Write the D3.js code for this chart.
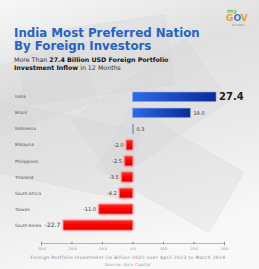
<!DOCTYPE html>
<html>
<head>
<meta charset="utf-8">
<script src="https://cdn.jsdelivr.net/npm/d3@7"></script>
<style>
  html, body { margin: 0; padding: 0; background: #fff; }
  svg { display: block; font-family: "DejaVu Sans", sans-serif; }
</style>
</head>
<body>
<div class="svg-container"></div>
<script>
const countries = ['India', 'Brazil', 'Indonesia', 'Malaysia', 'Philippines', 'Thailand', 'South Africa', 'Taiwan', 'South Korea']
const inflows = [27.4, 19.0, 0.3, -2.0, -2.5, -3.5, -4.2, -11.0, -22.7]
const tickValues = [-30, -20, -10, 0, 10, 20, 30]
const tickLabels = ['-30.0', '-20.0', '-10.0', '0.0', '10.0', '20.0', '30.0']

const data = countries.map((c, i) => ({ country: c, value: inflows[i] }))

const W = 259, H = 269
const svg = d3.select('.svg-container').append('svg')
  .attr('width', W)
  .attr('height', H)

const defs = svg.append('defs')

const bg = defs.append('linearGradient').attr('id', 'bg')
  .attr('x1', 0).attr('y1', 0).attr('x2', 0.3).attr('y2', 1)
bg.append('stop').attr('offset', '0%').attr('stop-color', '#f7f7f7')
bg.append('stop').attr('offset', '35%').attr('stop-color', '#e0e0e0')
bg.append('stop').attr('offset', '70%').attr('stop-color', '#ebebeb')
bg.append('stop').attr('offset', '100%').attr('stop-color', '#f8f8f8')

const blue = defs.append('linearGradient').attr('id', 'blueBar')
blue.append('stop').attr('offset', '0%').attr('stop-color', '#2f6ae6')
blue.append('stop').attr('offset', '100%').attr('stop-color', '#0a2a98')

const red = defs.append('linearGradient').attr('id', 'redBar')
  .attr('x1', 0).attr('y1', 0).attr('x2', 0).attr('y2', 1)
red.append('stop').attr('offset', '0%').attr('stop-color', '#ff2a2a')
red.append('stop').attr('offset', '50%').attr('stop-color', '#ff0000')
red.append('stop').attr('offset', '100%').attr('stop-color', '#e00000')

const glow = defs.append('filter').attr('id', 'glow')
  .attr('x', '-30%').attr('y', '-60%').attr('width', '160%').attr('height', '220%')
glow.append('feDropShadow').attr('dx', 0).attr('dy', 0)
  .attr('stdDeviation', 1.3).attr('flood-color', '#ff3030').attr('flood-opacity', 0.8)

svg.append('rect').attr('width', W).attr('height', H).attr('fill', 'url(#bg)')

// faint banknotes in the background
const notes = [
  [95, 60, 150, 70, -8], [150, 110, 140, 75, -35], [60, 150, 150, 70, 12],
  [170, 170, 130, 70, 30], [30, 90, 120, 65, -20]
]
svg.append('g').selectAll('rect')
  .data(notes)
  .enter()
  .append('rect')
  .attr('x', d => -d[2] / 2).attr('y', d => -d[3] / 2)
  .attr('width', d => d[2]).attr('height', d => d[3])
  .attr('transform', d => `translate(${d[0]},${d[1]}) rotate(${d[4]})`)
  .attr('fill', '#d4d4d4').attr('fill-opacity', 0.3)
  .attr('stroke', '#cdcdcd').attr('stroke-opacity', 0.35).attr('stroke-width', 0.8)

// header
const title = svg.append('text')
  .attr('fill', '#2463c9')
  .attr('font-weight', 'bold')
  .attr('font-size', 11.8)
title.append('tspan').attr('x', 14).attr('y', 37).text('India Most Preferred Nation')
title.append('tspan').attr('x', 14).attr('y', 49.5).text('By Foreign Investors')

const sub = svg.append('text').attr('font-size', 6.3).attr('fill', '#333')
const s1 = sub.append('tspan').attr('x', 14).attr('y', 62)
s1.append('tspan').text('More Than ')
s1.append('tspan').attr('font-weight', 'bold').attr('fill', '#111').text('27.4 Billion USD Foreign Portfolio')
const s2 = sub.append('tspan').attr('x', 14).attr('y', 70)
s2.append('tspan').attr('font-weight', 'bold').attr('fill', '#111').text('Investment Inflow')
s2.append('tspan').text(' in 12 Months')

// logo
const logo = svg.append('g').attr('transform', 'translate(224,7)')
logo.append('text').attr('x', 3).attr('y', 6).attr('font-size', 6).attr('font-weight', 'bold')
  .attr('fill', '#8bbf3c').text('my')
const gov = logo.append('text').attr('x', 2).attr('y', 14).attr('font-size', 9).attr('font-weight', 'bold')
gov.append('tspan').attr('fill', '#f29a2e').text('G')
gov.append('tspan').attr('fill', '#3a7bd5').text('O')
gov.append('tspan').attr('fill', '#f29a2e').text('V')
logo.append('text').attr('x', 8).attr('y', 19).attr('font-size', 2.5).attr('fill', '#777').text('मेरी सरकार')

// chart
const x = d3.scaleLinear().domain([-30, 30]).range([41, 224])
const y = d3.scaleBand().domain(countries).range([85.6, 236.4]).padding(0.4)

svg.append('g').selectAll('text')
  .data(data)
  .enter()
  .append('text')
  .attr('x', 15)
  .attr('y', d => y(d.country) + y.bandwidth() / 2)
  .attr('dy', '0.35em')
  .attr('font-size', 4.3)
  .attr('fill', '#555')
  .text(d => d.country)

svg.append('g').selectAll('rect')
  .data(data)
  .enter()
  .append('rect')
  .attr('x', d => x(Math.min(0, d.value)))
  .attr('y', d => y(d.country))
  .attr('width', d => Math.abs(x(d.value) - x(0)))
  .attr('height', y.bandwidth())
  .attr('fill', d => d.value >= 0 ? 'url(#blueBar)' : 'url(#redBar)')
  .attr('stroke', d => d.value >= 0 ? '#8fb0f0' : '#ff6a6a')
  .attr('stroke-width', 0.6)
  .attr('filter', d => d.value >= 0 ? null : 'url(#glow)')

svg.append('g').selectAll('text')
  .data(data)
  .enter()
  .append('text')
  .attr('x', d => d.value >= 0 ? x(d.value) + 3 : x(d.value) - 3)
  .attr('y', d => y(d.country) + y.bandwidth() / 2)
  .attr('dy', '0.35em')
  .attr('text-anchor', d => d.value >= 0 ? 'start' : 'end')
  .attr('font-size', (d, i) => i === 0 ? 10 : (i === data.length - 1 ? 6 : 5))
  .attr('font-weight', (d, i) => i === 0 ? 'bold' : 'normal')
  .attr('fill', (d, i) => i === 0 ? '#222' : '#333')
  .text(d => d.value.toFixed(1))

// axis
const axis = d3.axisBottom(x)
  .tickValues(tickValues)
  .tickSize(2.5)
  .tickFormat((d, i) => tickLabels[i])

const ax = svg.append('g')
  .attr('transform', 'translate(0,243)')
  .call(axis)
ax.select('.domain').attr('stroke', '#888').attr('stroke-width', 0.6)
ax.selectAll('.tick line').attr('stroke', '#777').attr('stroke-width', 0.8)
  .attr('y1', -1.2).attr('y2', 1.2)
ax.selectAll('.tick text').attr('font-size', 3.4).attr('fill', '#888')
  .attr('y', 5).attr('font-family', '"DejaVu Sans", sans-serif')

svg.append('text')
  .attr('x', 128).attr('y', 259)
  .attr('text-anchor', 'middle')
  .attr('font-size', 4.5).attr('letter-spacing', 0.35).attr('fill', '#888')
  .text('Foreign Portfolio Investment (in Billion USD) over April 2023 to March 2024')

svg.append('text')
  .attr('x', 128).attr('y', 266)
  .attr('text-anchor', 'middle')
  .attr('font-size', 4).attr('letter-spacing', 0.3).attr('fill', '#999')
  .text('Source: Axis Capital')
</script>
</body>
</html>
